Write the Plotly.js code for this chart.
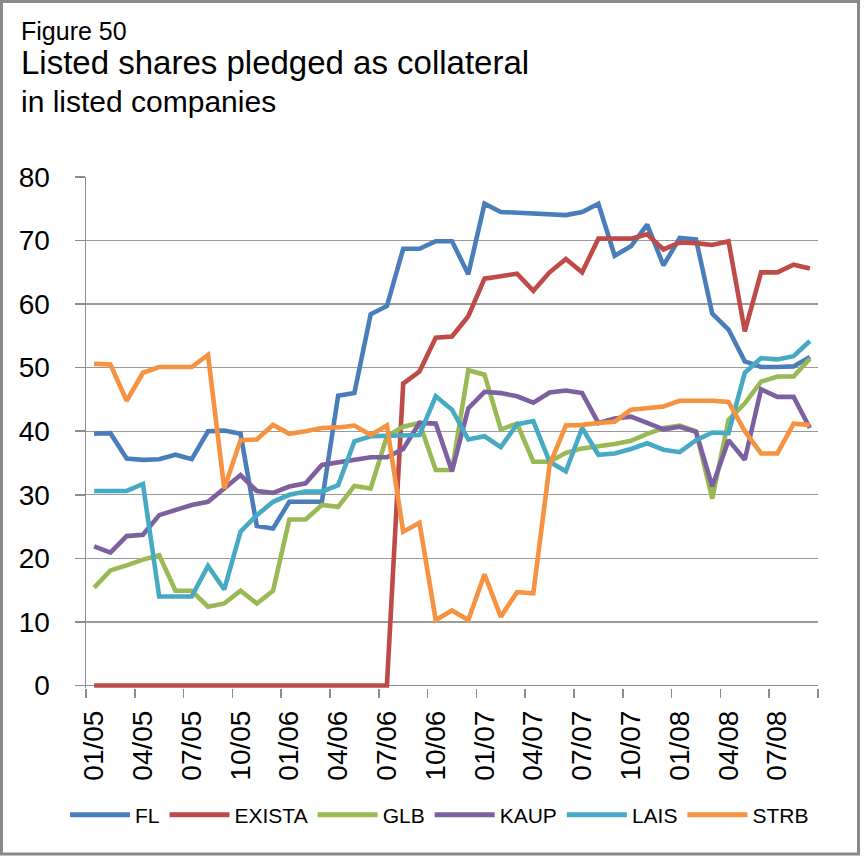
<!DOCTYPE html>
<html>
<head>
<meta charset="utf-8">
<script src="https://cdn.plot.ly/plotly-3.0.1.min.js"></script>
<style>
  html, body { margin: 0; padding: 0; background: #ffffff; }
  #chart { width: 866px; height: 866px; }
</style>
</head>
<body>
<div id="chart"></div>
<script>
// Months 01/05 .. 09/08
const months = [
  "01/05","02/05","03/05","04/05","05/05","06/05","07/05","08/05","09/05","10/05","11/05","12/05",
  "01/06","02/06","03/06","04/06","05/06","06/06","07/06","08/06","09/06","10/06","11/06","12/06",
  "01/07","02/07","03/07","04/07","05/07","06/07","07/07","08/07","09/07","10/07","11/07","12/07",
  "01/08","02/08","03/08","04/08","05/08","06/08","07/08","08/08","09/08"
];

const FL = [39.6,39.7,35.7,35.5,35.6,36.3,35.6,40.0,40.1,39.6,25.1,24.7,28.9,28.9,28.9,45.6,46.0,58.4,59.7,68.7,68.7,69.9,69.9,64.7,75.8,74.5,74.4,74.2,74.1,74.0,74.5,75.8,67.6,69.1,72.5,66.1,70.4,70.2,58.5,56.0,51.0,50.1,50.1,50.2,51.7];
const EXISTA = [0,0,0,0,0,0,0,0,0,0,0,0,0,0,0,0,0,0,0,47.5,49.4,54.7,54.9,58.1,64.0,64.4,64.8,62.1,65.0,67.1,65.0,70.3,70.3,70.3,71.0,68.6,69.7,69.6,69.3,69.9,55.7,65.0,65.0,66.2,65.6];
const GLB = [15.4,18.1,18.9,19.8,20.5,14.9,14.9,12.4,12.9,14.9,12.9,14.9,26.1,26.1,28.4,28.1,31.4,31.0,39.2,40.7,41.3,33.9,33.9,49.6,48.9,40.3,41.2,35.2,35.2,36.6,37.3,37.6,38.0,38.5,39.6,40.5,40.9,40.0,29.4,41.8,44.4,47.8,48.6,48.6,51.4];
const KAUP = [21.9,20.9,23.5,23.7,26.8,27.6,28.4,28.9,31.0,33.1,30.6,30.3,31.3,31.8,34.7,35.1,35.5,35.9,35.9,37.2,41.3,41.2,33.7,43.6,46.2,46.0,45.5,44.5,46.1,46.4,46.0,41.3,42.0,42.3,41.3,40.3,40.7,39.9,31.3,38.6,35.5,46.6,45.4,45.4,40.5];
const LAIS = [30.6,30.6,30.6,31.7,14.0,14.0,14.0,18.8,15.1,24.2,26.8,28.9,30.0,30.5,30.5,31.5,38.4,39.2,39.3,39.4,39.4,45.5,43.4,38.7,39.2,37.5,41.1,41.6,35.2,33.7,40.5,36.3,36.5,37.2,38.1,37.1,36.7,38.6,39.8,39.7,49.2,51.5,51.3,51.8,54.2];
const STRB = [50.6,50.5,44.8,49.2,50.1,50.1,50.1,52.0,31.0,38.6,38.7,41.0,39.6,40.0,40.5,40.6,40.9,39.4,40.9,24.2,25.6,10.3,11.8,10.3,17.5,10.8,14.7,14.5,34.7,40.9,41.0,41.3,41.5,43.4,43.7,43.9,44.8,44.8,44.8,44.6,40.0,36.5,36.5,41.2,41.0];

const seriesNames = ["FL","EXISTA","GLB","KAUP","LAIS","STRB"];
const seriesData = [FL, EXISTA, GLB, KAUP, LAIS, STRB];
const seriesColors = ["#4A7EBB","#BE4B48","#98B954","#7D60A0","#46AAC5","#F69240"];

const traces = seriesNames.map((n, k) => ({
  type: "scatter",
  mode: "lines",
  name: n,
  x: months,
  y: seriesData[k],
  line: { color: seriesColors[k], width: 4.6 },
  hoverinfo: "skip"
}));

const FONT = "Liberation Sans, Arial, sans-serif";
const W = 866, H = 866;
const L = 86, R = 48, T = 177, B = 178;
const pw = W - L - R, ph = H - T - B;
const px = X => (X - L) / pw;
const py = Y => (H - B - Y) / ph;

const layout = {
  width: W, height: H,
  margin: { l: L, r: R, t: T, b: B, pad: 0 },
  paper_bgcolor: "#ffffff",
  plot_bgcolor: "#ffffff",
  font: { family: FONT, color: "#000000" },
  showlegend: true,
  legend: {
    orientation: "h",
    x: px(65), xanchor: "left",
    y: py(815), yanchor: "middle",
    font: { family: FONT, size: 21, color: "#000000" },
    itemwidth: 60,
    itemsizing: "constant",
    tracegroupgap: 0,
    bgcolor: "rgba(0,0,0,0)"
  },
  xaxis: {
    type: "category",
    range: [-0.5, 44.5],
    tickmode: "linear", tick0: 0, dtick: 3,
    tickson: "boundaries",
    ticks: "outside", ticklen: 9, tickwidth: 1.5, tickcolor: "#8c8c8c",
    tickangle: -90,
    ticklabelstandoff: 16,
    tickfont: { family: FONT, size: 28, color: "#000000" },
    showgrid: false,
    showline: false,
    zeroline: false,
    fixedrange: true
  },
  yaxis: {
    range: [-0.4, 80],
    tickmode: "array",
    tickvals: [0,10,20,30,40,50,60,70,80],
    ticktext: ["0","10","20","30","40","50","60","70","80"],
    ticks: "outside", ticklen: 10, tickwidth: 1.5, tickcolor: "#8c8c8c",
    ticklabelstandoff: 19,
    tickfont: { family: FONT, size: 28, color: "#000000" },
    showgrid: true, gridcolor: "#9a9a9a", gridwidth: 1.3,
    showline: true, linecolor: "#8c8c8c", linewidth: 1.5,
    zeroline: true, zerolinecolor: "#8c8c8c", zerolinewidth: 1.5,
    fixedrange: true
  },
  annotations: [
    { text: "Figure 50", xref: "paper", yref: "paper", x: px(19), y: py(31), xanchor: "left", yanchor: "middle", showarrow: false, font: { family: FONT, size: 25, color: "#000000" } },
    { text: "Listed shares pledged as collateral", xref: "paper", yref: "paper", x: px(19), y: py(63), xanchor: "left", yanchor: "middle", showarrow: false, font: { family: FONT, size: 33, color: "#000000" } },
    { text: "in listed companies", xref: "paper", yref: "paper", x: px(19), y: py(101), xanchor: "left", yanchor: "middle", showarrow: false, font: { family: FONT, size: 30, color: "#000000" } }
  ],
  shapes: [
    { type: "rect", xref: "paper", yref: "paper", x0: px(1.5), x1: px(858.5), y0: py(854), y1: py(1.5), line: { color: "#8a8a8a", width: 3 }, fillcolor: "rgba(0,0,0,0)", layer: "below" }
  ]
};

Plotly.newPlot("chart", traces, layout, { staticPlot: true, displayModeBar: false });
</script>
</body>
</html>
